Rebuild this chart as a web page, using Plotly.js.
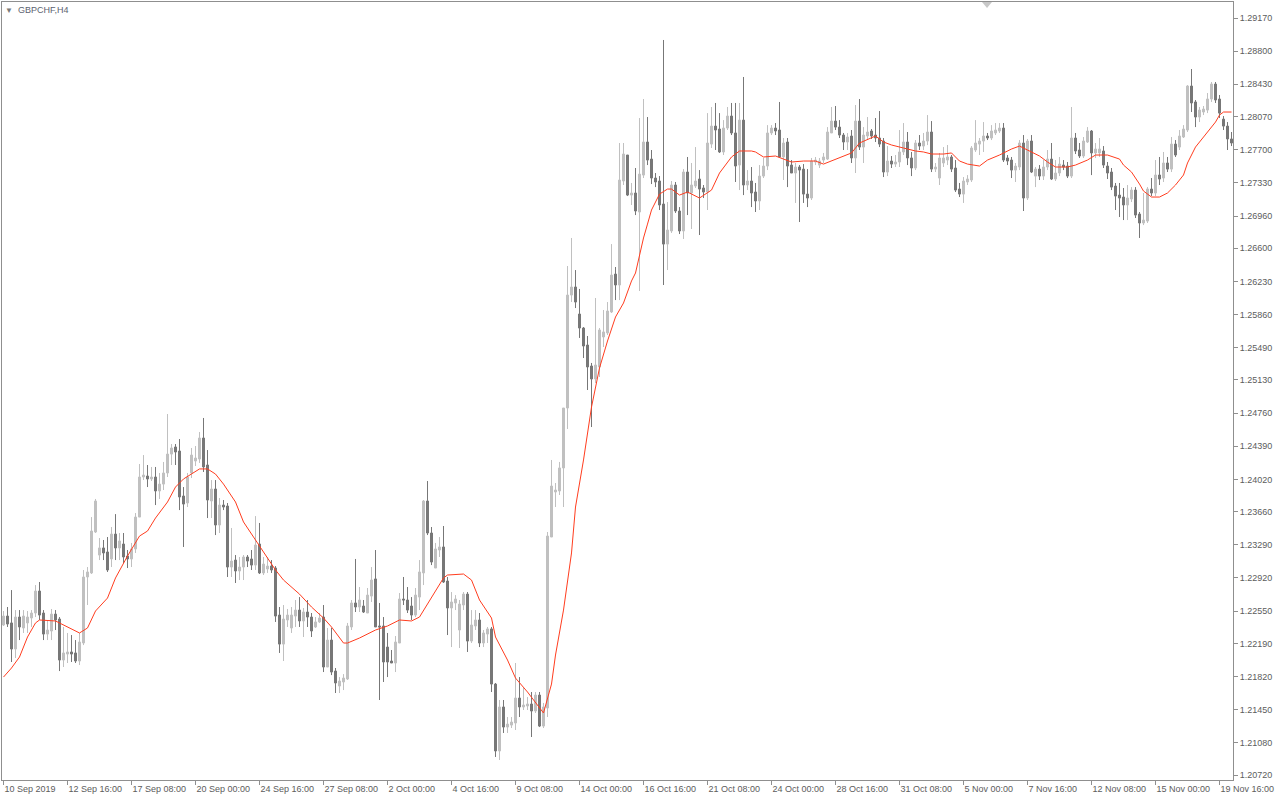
<!DOCTYPE html>
<html><head><meta charset="utf-8">
<script src="https://cdn.plot.ly/plotly-3.0.1.min.js"></script>
<style>html,body{margin:0;padding:0;background:#fff;}#chart{width:1280px;height:800px;}</style>
</head><body><div id="chart"></div>
<script>
const symbolTitle = 'GBPCHF,H4';

const open = [
1.22395,1.22495,1.22418,1.22127,1.22484,1.22362,1.22418,1.22473,1.22529,1.22774,
1.22529,1.22294,1.22328,1.22517,1.22462,1.22004,1.22071,1.22094,1.22083,1.21993,
1.22194,1.22931,1.22976,1.23433,1.23176,1.23255,1.23210,1.23132,1.23410,1.23255,
1.23299,1.23165,1.23132,1.23244,1.23600,1.24047,1.24058,1.24025,1.24047,1.23891,
1.23968,1.24092,1.24303,1.24382,1.24337,1.23835,1.23757,1.24092,1.24226,1.24248,
1.24482,1.24181,1.23779,1.23913,1.23511,1.23734,1.23723,1.23042,1.23120,1.22998,
1.23042,1.23154,1.23132,1.23064,1.23299,1.22976,1.23020,1.23053,1.23031,1.22506,
1.22182,1.22451,1.22362,1.22495,1.22562,1.22440,1.22540,1.22484,1.22373,1.22429,
1.22484,1.21926,1.22227,1.21881,1.21714,1.21759,1.21792,1.22373,1.22641,1.22596,
1.22607,1.22529,1.22718,1.22909,1.22384,1.22384,1.22149,1.21993,1.21971,1.22194,
1.22685,1.22674,1.22607,1.22506,1.22707,1.22976,1.23779,1.23422,1.23031,1.23232,
1.23266,1.22886,1.22585,1.22641,1.22339,1.22618,1.22740,1.22216,1.22384,1.22451,
1.22194,1.22294,1.22351,1.21736,1.20989,1.21480,1.21256,1.21278,1.21301,1.21580,
1.21480,1.21491,1.21513,1.21435,1.21613,1.21267,1.21469,1.23377,1.23880,1.23891,
1.24148,1.24817,1.26078,1.26168,1.25866,1.25710,1.25520,1.25286,1.25141,1.25275,
1.25610,1.25655,1.25889,1.26312,1.26190,1.27351,1.27641,1.27194,1.27217,1.27005,
1.27417,1.27786,1.27596,1.27384,1.27351,1.27094,1.26647,1.26793,1.27306,1.27016,
1.26793,1.27451,1.27217,1.27295,1.27373,1.27273,1.27228,1.27763,1.27964,1.27931,
1.27675,1.27942,1.28076,1.27887,1.27529,1.28031,1.27306,1.27351,1.27228,1.27128,
1.27406,1.27518,1.27887,1.27942,1.27920,1.27619,1.27786,1.27529,1.27440,1.27507,
1.27484,1.27205,1.27161,1.27563,1.27529,1.27585,1.27596,1.27887,1.28020,1.27953,
1.27864,1.27786,1.27853,1.27608,1.28020,1.27730,1.27853,1.27909,1.27864,1.27831,
1.27797,1.27451,1.27574,1.27540,1.27563,1.27675,1.27786,1.27608,1.27496,1.27775,
1.27741,1.27797,1.27898,1.27484,1.27384,1.27552,1.27585,1.27619,1.27496,1.27261,
1.27205,1.27340,1.27362,1.27697,1.27763,1.27797,1.27853,1.27831,1.27887,1.27909,
1.27942,1.27608,1.27585,1.27473,1.27507,1.27775,1.27161,1.27797,1.27406,1.27484,
1.27406,1.27507,1.27596,1.27373,1.27440,1.27529,1.27518,1.27406,1.27831,1.27697,
1.27630,1.27786,1.27909,1.27664,1.27664,1.27686,1.27518,1.27451,1.27295,1.27194,
1.27172,1.27083,1.27150,1.27250,1.26982,1.26882,1.26904,1.27261,1.27217,1.27418,
1.27384,1.27552,1.27484,1.27763,1.27730,1.27842,1.27920,1.28411,1.28233,1.28065,
1.28121,1.28143,1.28266,1.28433,1.28266,1.28042,1.27964,1.27820
];

const high = [
1.22551,1.22596,1.22785,1.22562,1.22562,1.22562,1.22551,1.22562,1.22841,1.22875,
1.22562,1.22451,1.22574,1.22562,1.22484,1.22373,1.22306,1.22283,1.22227,1.22306,
1.23009,1.23042,1.23600,1.23802,1.23366,1.23344,1.23377,1.23489,1.23633,1.23422,
1.23422,1.23232,1.23311,1.23645,1.24192,1.24292,1.24181,1.24159,1.24159,1.24092,
1.24215,1.24750,1.24415,1.24415,1.24471,1.23935,1.24092,1.24371,1.24393,1.24549,
1.24706,1.24348,1.24013,1.24013,1.23813,1.23790,1.23757,1.23478,1.23176,1.23154,
1.23176,1.23176,1.23232,1.23611,1.23534,1.23154,1.23154,1.23120,1.23053,1.22596,
1.22618,1.22574,1.22596,1.22674,1.22707,1.22585,1.22674,1.22529,1.22484,1.22529,
1.22618,1.22362,1.22362,1.21915,1.21814,1.21847,1.22418,1.22674,1.23132,1.22819,
1.22674,1.22808,1.23042,1.23232,1.22641,1.22484,1.22306,1.22116,1.22272,1.22752,
1.22931,1.22819,1.22707,1.22808,1.23120,1.23790,1.24002,1.23489,1.23311,1.23377,
1.23500,1.22931,1.22763,1.22729,1.22674,1.22763,1.22763,1.22562,1.22562,1.22529,
1.22339,1.22373,1.22373,1.21748,1.21558,1.21558,1.21368,1.21368,1.21971,1.21814,
1.21692,1.21591,1.21647,1.21647,1.21647,1.21525,1.23433,1.24237,1.23980,1.24215,
1.24817,1.26402,1.26715,1.26357,1.26146,1.25721,1.25621,1.25320,1.26045,1.25710,
1.25911,1.26000,1.26647,1.26391,1.27775,1.27775,1.27641,1.27329,1.27496,1.28054,
1.28266,1.28065,1.27697,1.27440,1.27406,1.28925,1.27116,1.27351,1.27340,1.27060,
1.27484,1.27619,1.27552,1.27730,1.27473,1.27306,1.28109,1.28177,1.28222,1.28109,
1.28031,1.28177,1.28222,1.28222,1.28222,1.28512,1.27473,1.27507,1.27329,1.27529,
1.27608,1.27975,1.27975,1.27998,1.28233,1.27831,1.27831,1.27585,1.27552,1.27529,
1.27540,1.27484,1.27608,1.27619,1.27608,1.27664,1.27953,1.28177,1.28188,1.28031,
1.27887,1.27887,1.27920,1.28199,1.28266,1.27953,1.28065,1.27931,1.28054,1.28132,
1.27831,1.27741,1.27630,1.27641,1.27920,1.27998,1.27898,1.27675,1.27808,1.27864,
1.27887,1.28087,1.28020,1.27552,1.27664,1.27730,1.27753,1.27641,1.27585,1.27329,
1.27395,1.27417,1.27741,1.28031,1.27831,1.28009,1.27887,1.27975,1.27998,1.27998,
1.27998,1.27641,1.27619,1.27552,1.27808,1.27864,1.27820,1.27864,1.27507,1.27529,
1.27585,1.27697,1.27775,1.27585,1.27619,1.27585,1.27563,1.28177,1.27887,1.27775,
1.27842,1.27953,1.27920,1.27775,1.27831,1.27741,1.27563,1.27496,1.27329,1.27329,
1.27273,1.27306,1.27283,1.27283,1.27005,1.27217,1.27283,1.27384,1.27585,1.27619,
1.27675,1.27619,1.27842,1.27808,1.27920,1.27975,1.28422,1.28601,1.28255,1.28177,
1.28188,1.28333,1.28456,1.28456,1.28311,1.28076,1.28009,1.27898
];

const low = [
1.22384,1.22373,1.21982,1.22027,1.22227,1.22306,1.22306,1.22373,1.22484,1.22451,
1.22227,1.22227,1.22227,1.22339,1.21881,1.21926,1.21971,1.21982,1.21971,1.21948,
1.22171,1.22618,1.22964,1.23422,1.23120,1.23120,1.22987,1.23042,1.23120,1.23120,
1.23087,1.23031,1.23042,1.23199,1.23600,1.24013,1.23935,1.24002,1.23734,1.23802,
1.23902,1.24047,1.24181,1.24181,1.23678,1.23266,1.23712,1.24036,1.24170,1.24204,
1.24103,1.23589,1.23589,1.23399,1.23422,1.23678,1.22931,1.22931,1.22864,1.22897,
1.22897,1.23042,1.23009,1.23009,1.22964,1.22953,1.22976,1.22976,1.22429,1.22083,
1.21993,1.22373,1.22306,1.22373,1.22373,1.22261,1.22373,1.22261,1.22362,1.22418,
1.21870,1.21926,1.21836,1.21636,1.21636,1.21669,1.21781,1.22339,1.22540,1.22540,
1.22529,1.22529,1.22652,1.22373,1.21558,1.21759,1.21814,1.21971,1.21870,1.22194,
1.22618,1.22529,1.22451,1.22484,1.22562,1.22841,1.23399,1.23064,1.23031,1.23154,
1.22864,1.22283,1.22149,1.22562,1.22138,1.22562,1.22094,1.22194,1.22339,1.22149,
1.22149,1.22194,1.21647,1.20922,1.20888,1.21190,1.21190,1.21245,1.21223,1.21368,
1.21446,1.21446,1.21145,1.21413,1.21256,1.21245,1.21368,1.23377,1.23712,1.23846,
1.23712,1.24583,1.26000,1.25933,1.25599,1.25375,1.25018,1.24605,1.25096,1.25163,
1.25498,1.25632,1.25878,1.26022,1.26022,1.27306,1.27183,1.27083,1.26971,1.26123,
1.27384,1.27529,1.27317,1.27283,1.27027,1.26190,1.26357,1.26771,1.26994,1.26759,
1.26704,1.26971,1.26815,1.27273,1.26748,1.27161,1.27027,1.27719,1.27697,1.27664,
1.27641,1.27920,1.27864,1.27340,1.27250,1.27194,1.27250,1.27060,1.27005,1.27027,
1.27384,1.27473,1.27864,1.27864,1.27608,1.27362,1.27283,1.27440,1.27106,1.26893,
1.27106,1.27060,1.27139,1.27529,1.27496,1.27552,1.27585,1.27887,1.27920,1.27831,
1.27697,1.27697,1.27552,1.27440,1.27697,1.27552,1.27808,1.27820,1.27786,1.27730,
1.27395,1.27406,1.27496,1.27507,1.27507,1.27641,1.27529,1.27406,1.27473,1.27697,
1.27697,1.27752,1.27451,1.27451,1.27306,1.27507,1.27529,1.27451,1.27228,1.27172,
1.27106,1.27306,1.27340,1.27675,1.27641,1.27675,1.27808,1.27808,1.27864,1.27887,
1.27563,1.27529,1.27384,1.27340,1.27473,1.27016,1.27139,1.27440,1.27283,1.27362,
1.27362,1.27473,1.27362,1.27351,1.27406,1.27473,1.27384,1.27384,1.27652,1.27608,
1.27608,1.27775,1.27417,1.27608,1.27619,1.27496,1.27373,1.27250,1.27027,1.26949,
1.26915,1.26915,1.27116,1.26938,1.26715,1.26859,1.26882,1.27183,1.27183,1.27306,
1.27340,1.27451,1.27451,1.27619,1.27697,1.27831,1.27898,1.28121,1.27953,1.28009,
1.28087,1.28109,1.28233,1.28222,1.28054,1.27920,1.27697,1.27741
];

const close = [
1.22495,1.22406,1.22127,1.22484,1.22373,1.22495,1.22484,1.22529,1.22774,1.22506,
1.22294,1.22339,1.22517,1.22451,1.22004,1.22083,1.22094,1.22071,1.21993,1.22205,
1.22931,1.22987,1.23444,1.23779,1.23255,1.23199,1.23009,1.23410,1.23255,1.23333,
1.23154,1.23132,1.23244,1.23600,1.24047,1.24069,1.24025,1.24047,1.23891,1.23968,
1.24092,1.24303,1.24371,1.24326,1.23824,1.23745,1.24047,1.24292,1.24259,1.24482,
1.24159,1.23790,1.23913,1.23511,1.23734,1.23712,1.23042,1.23109,1.22998,1.23042,
1.23154,1.23109,1.23064,1.23288,1.22976,1.23075,1.23053,1.23009,1.22495,1.22182,
1.22462,1.22506,1.22506,1.22562,1.22440,1.22540,1.22484,1.22328,1.22429,1.22473,
1.21926,1.22227,1.21870,1.21748,1.21770,1.21803,1.22384,1.22641,1.22596,1.22674,
1.22540,1.22729,1.22897,1.22373,1.22373,1.21982,1.21982,1.21971,1.22205,1.22685,
1.22674,1.22562,1.22506,1.22729,1.22987,1.23779,1.23422,1.23098,1.23244,1.23266,
1.22875,1.22585,1.22652,1.22685,1.22629,1.22740,1.22216,1.22395,1.22451,1.22194,
1.22306,1.22351,1.21736,1.20989,1.21480,1.21256,1.21289,1.21312,1.21580,1.21480,
1.21502,1.21513,1.21435,1.21613,1.21267,1.21480,1.23388,1.23946,1.23902,1.24148,
1.24817,1.26078,1.26168,1.26000,1.25710,1.25509,1.25275,1.25141,1.25297,1.25688,
1.25666,1.25900,1.26301,1.26190,1.27362,1.27652,1.27194,1.27217,1.27016,1.27428,
1.27786,1.27585,1.27384,1.27340,1.27083,1.26647,1.26804,1.27306,1.27016,1.26793,
1.27451,1.27217,1.27306,1.27351,1.27261,1.27228,1.27775,1.27964,1.27920,1.27675,
1.27942,1.28076,1.27887,1.27518,1.28031,1.27306,1.27351,1.27217,1.27128,1.27406,
1.27518,1.27887,1.27942,1.27909,1.27619,1.27775,1.27518,1.27440,1.27507,1.27473,
1.27205,1.27161,1.27574,1.27585,1.27574,1.27619,1.27898,1.28020,1.27953,1.27864,
1.27786,1.27842,1.27608,1.28020,1.27730,1.27864,1.27898,1.27853,1.27831,1.27763,
1.27451,1.27574,1.27540,1.27563,1.27675,1.27786,1.27608,1.27496,1.27775,1.27741,
1.27797,1.27898,1.27484,1.27507,1.27608,1.27608,1.27619,1.27484,1.27250,1.27205,
1.27351,1.27373,1.27719,1.27775,1.27797,1.27853,1.27831,1.27909,1.27920,1.27942,
1.27585,1.27574,1.27473,1.27518,1.27775,1.27161,1.27797,1.27451,1.27484,1.27406,
1.27507,1.27596,1.27373,1.27440,1.27540,1.27507,1.27406,1.27831,1.27686,1.27630,
1.27797,1.27909,1.27664,1.27708,1.27708,1.27529,1.27440,1.27283,1.27183,1.27161,
1.27083,1.27161,1.27250,1.26971,1.26882,1.26915,1.27261,1.27217,1.27418,1.27373,
1.27552,1.27484,1.27763,1.27641,1.27853,1.27931,1.28411,1.28222,1.28065,1.28143,
1.28154,1.28266,1.28433,1.28255,1.28109,1.27964,1.27820,1.27775
];

// moving average (red line), read at these bar positions
const maBars = [0,2,4,6,8,9,13,16,19,21,23,26,28,31,34,36,38,41,43,45,47,49,51,53,55,58,60,63,65,68,70,74,77,80,82,85,86,89,93,96,99,102,104,107,110,111,114,115,117,119,122,123,126,128,131,133,135,137,138,140,142,143,145,147,149,151,153,155,157,158,160,161,162,164,166,167,169,171,174,177,179,182,184,187,188,190,193,195,197,200,203,205,208,212,214,218,220,222,225,228,230,232,235,237,239,241,244,246,249,252,254,256,259,261,263,266,268,271,273,276,279,280,282,284,285,287,289,291,293,295,296,298,301,303,304,305,307];
const maValues = [1.21814,1.21915,1.22038,1.22261,1.22418,1.22451,1.22440,1.22373,1.22306,1.22362,1.22551,1.22696,1.22920,1.23165,1.23388,1.23444,1.23589,1.23768,1.23935,1.24025,1.24080,1.24137,1.24137,1.24080,1.23968,1.23768,1.23545,1.23344,1.23221,1.23009,1.22897,1.22740,1.22596,1.22473,1.22373,1.22194,1.22194,1.22250,1.22339,1.22384,1.22451,1.22440,1.22484,1.22696,1.22920,1.22953,1.22964,1.22964,1.22897,1.22674,1.22473,1.22261,1.22004,1.21803,1.21647,1.21525,1.21413,1.21736,1.22060,1.22562,1.23199,1.23712,1.24237,1.24828,1.25264,1.25565,1.25833,1.25989,1.26235,1.26324,1.26715,1.26870,1.27027,1.27205,1.27261,1.27261,1.27194,1.27228,1.27161,1.27250,1.27440,1.27619,1.27686,1.27686,1.27675,1.27619,1.27630,1.27596,1.27563,1.27574,1.27574,1.27540,1.27596,1.27664,1.27775,1.27853,1.27786,1.27753,1.27719,1.27686,1.27675,1.27652,1.27652,1.27664,1.27574,1.27540,1.27518,1.27585,1.27641,1.27708,1.27741,1.27697,1.27630,1.27563,1.27507,1.27507,1.27529,1.27585,1.27641,1.27641,1.27596,1.27529,1.27451,1.27317,1.27239,1.27172,1.27172,1.27217,1.27306,1.27418,1.27552,1.27730,1.27898,1.28009,1.28087,1.28121,1.28121];

const dateTickBars = [0,16,32,48,64,80,96,112,128,144,160,176,192,208,224,240,256,272,288,304];
const dateTickLabels = ['10 Sep 2019','12 Sep 16:00','17 Sep 08:00','20 Sep 00:00','24 Sep 16:00','27 Sep 08:00','2 Oct 00:00','4 Oct 16:00','9 Oct 08:00','14 Oct 00:00','16 Oct 16:00','21 Oct 08:00','24 Oct 00:00','28 Oct 16:00','31 Oct 08:00','5 Nov 00:00','7 Nov 16:00','12 Nov 08:00','15 Nov 00:00','19 Nov 16:00'];
const priceTicks = [1.29170,1.28800,1.28430,1.28070,1.27700,1.27330,1.26960,1.26600,1.26230,1.25860,1.25490,1.25130,1.24760,1.24390,1.24020,1.23660,1.23290,1.22920,1.22550,1.22190,1.21820,1.21450,1.21080,1.20720];

const barIndex = open.map((_, i) => i);
const axisFont = {family: 'Liberation Sans, Arial, sans-serif', size: 9, color: '#5c5c5c'};
const frameColor = '#8f8f8f';

const candles = {
  type: 'candlestick', x: barIndex, open: open, high: high, low: low, close: close,
  increasing: {line: {color: '#c0c0c0', width: 1}, fillcolor: '#c0c0c0'},
  decreasing: {line: {color: '#777777', width: 1}, fillcolor: '#777777'},
  whiskerwidth: 0, hoverinfo: 'skip', showlegend: false
};
const ma = {
  type: 'scatter', mode: 'lines', x: maBars, y: maValues,
  line: {color: '#ff3d1f', width: 1}, hoverinfo: 'skip', showlegend: false
};

const layout = {
  width: 1280, height: 800,
  margin: {l: 2, r: 47, t: 2, b: 20, pad: 0},
  paper_bgcolor: '#ffffff', plot_bgcolor: '#ffffff',
  showlegend: false, hovermode: false, boxgap: 0.5, boxgroupgap: 0,
  title: {text: symbolTitle, font: {family: 'Liberation Sans, Arial, sans-serif', size: 9, color: '#5c6270'},
          x: 18/1280, xref: 'container', xanchor: 'left', y: 1 - 10/800, yref: 'container', yanchor: 'middle'},
  xaxis: {
    range: [-0.375, 307.375], rangeslider: {visible: false}, fixedrange: true,
    showgrid: false, zeroline: false, showline: true, mirror: true, linecolor: frameColor, linewidth: 1,
    ticks: 'outside', ticklen: 4, tickcolor: frameColor, tickwidth: 1,
    tickmode: 'array', tickvals: dateTickBars, ticktext: dateTickLabels,
    ticklabelposition: 'outside right', tickfont: axisFont
  },
  yaxis: {
    side: 'right', range: [1.20665, 1.29349], fixedrange: true,
    showgrid: false, zeroline: false, showline: true, mirror: true, linecolor: frameColor, linewidth: 1,
    ticks: 'outside', ticklen: 4, tickcolor: frameColor, tickwidth: 1,
    tickmode: 'array', tickvals: priceTicks, tickformat: '.5f', tickfont: axisFont
  },
  annotations: [{
    text: '▼', xref: 'paper', yref: 'paper', x: 7/1231, y: (780-10)/778, xanchor: 'center', yanchor: 'middle',
    showarrow: false, font: {size: 8, color: '#7a7a7a'}
  }],
  shapes: [{
    type: 'path', xref: 'paper', yref: 'paper',
    path: 'M 0.7961 1 L 0.8042 1 L 0.8002 0.9923 Z',
    fillcolor: '#c8c8c8', line: {width: 0}
  }]
};

Plotly.newPlot('chart', [candles, ma], layout, {staticPlot: true, displayModeBar: false});
</script>
</body></html>
